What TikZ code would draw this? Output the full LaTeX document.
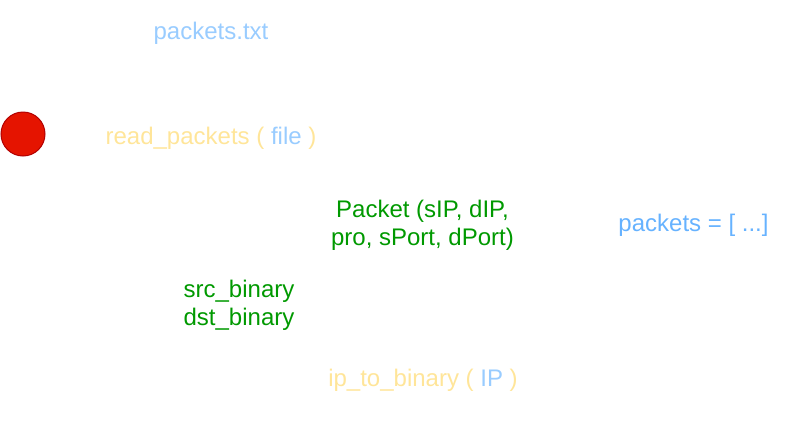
\documentclass[tikz,border=0pt]{standalone}
\usepackage{fontspec}
\setmainfont{Liberation Sans}
\usepackage{tikz}

\definecolor{filecol}{HTML}{99CCFF}
\definecolor{funccol}{HTML}{FFE599}
\definecolor{datacol}{HTML}{009900}
\definecolor{listcol}{HTML}{66B2FF}
\definecolor{startfill}{HTML}{E51400}
\definecolor{startline}{HTML}{B20000}

\begin{document}
\begin{tikzpicture}[x=1pt,y=-1pt,
	label/.style={inner sep=0pt,anchor=base,align=center,font=\fontsize{24}{28}\selectfont},
	func/.style={label,text=funccol},
	data/.style={label,text=datacol}]
	\useasboundingbox (0,0) rectangle (808,434);
	\node[circle,draw=startline,fill=startfill,line width=1pt,minimum size=44pt,inner sep=0pt] (start) at (23,134) {};
	\node[label,text=filecol] (txt) at (211,39.5) {packets.txt};
	\node[func] (read) at (211,144) {read\_packets ( \textcolor{filecol}{file} )};
	\node[data] (packet) at (422.5,245) {Packet (sIP, dIP,\\pro, sPort, dPort)};
	\node[label,text=listcol] (list) at (693.5,231.7) {packets = [ ...]};
	\node[data] (bin) at (239,325) {src\_binary\\dst\_binary};
	\node[func] (conv) at (423,386.7) {ip\_to\_binary ( \textcolor{filecol}{IP} )};
\end{tikzpicture}
\end{document}
